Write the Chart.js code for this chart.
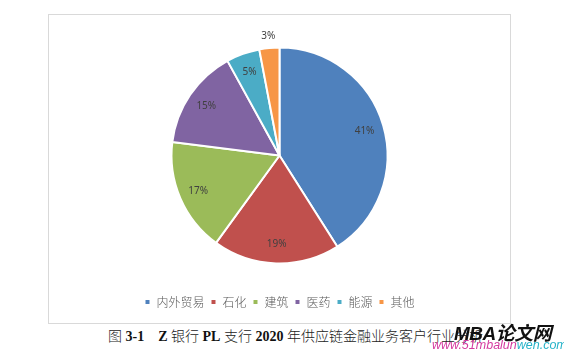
<!DOCTYPE html>
<html><head><meta charset="utf-8">
<script src="https://cdn.jsdelivr.net/npm/chart.js@4"></script>
<style>
html,body{margin:0;padding:0;background:#fff;width:564px;height:353px;overflow:hidden;position:relative}
#frame{position:absolute;left:48px;top:14px;width:461px;height:308px;border:1px solid #d9d9d9;background:#fff}
#wrap{position:absolute;left:0;top:0;width:461px;height:308px}
#cap{position:absolute;left:108px;top:325px;font-family:"Liberation Serif","Noto Sans CJK SC",serif;font-size:14px;color:#222;white-space:nowrap}
#cap b{font-weight:bold;color:#111}
#cap .c{font-weight:300}
#wm1{position:absolute;left:454px;top:318px;font-family:"Liberation Sans","Noto Sans CJK SC",sans-serif;font-size:19px;font-weight:bold;font-style:italic;color:#111;white-space:nowrap;letter-spacing:-0.5px}
#wm2{position:absolute;left:432px;top:338px;font-family:"Liberation Sans",sans-serif;font-size:12.5px;font-style:italic;white-space:nowrap;color:#d43aa0}
#wm2 span{color:#27b3c9}
</style></head>
<body>
<div id="frame"><div id="wrap"><canvas id="c"></canvas></div></div>
<div id="cap"><span class="c">图</span> <b>3-1</b>&nbsp;&nbsp;&nbsp; <b>Z</b> <span class="c">银行</span> <b>PL</b> <span class="c">支行</span> <b>2020</b> <span class="c">年供应链金融业务客户行业分析</span></div>
<div id="wm1">MBA论文网</div>
<div id="wm2">www.51mbalun<span>wen.com</span></div>
<script>
const categories = ["内外贸易","石化","建筑","医药","能源","其他"];
const values = [41,19,17,15,5,3];
const valueLabels = ["41%","19%","17%","15%","5%","3%"];
const colors = ["#4F81BD","#C0504D","#9BBB59","#8064A2","#4BACC6","#F79646"];

const labelPlugin = {
  id:'sliceLabels',
  afterDatasetsDraw(chart){
    const ctx = chart.ctx;
    const meta = chart.getDatasetMeta(0);
    ctx.save();
    ctx.font = '10px "Noto Sans","DejaVu Sans",sans-serif';
    ctx.fillStyle = '#404040';
    ctx.textAlign = 'center';
    ctx.textBaseline = 'middle';
    meta.data.forEach((arc,i)=>{
      const p = arc.getProps(['x','y','startAngle','endAngle','outerRadius'],true);
      const mid = (p.startAngle+p.endAngle)/2;
      const f = values[i] < 4 ? 1.11 : 0.82;
      const r = p.outerRadius*f;
      ctx.fillText(valueLabels[i], p.x+Math.cos(mid)*r, p.y+Math.sin(mid)*r);
    });
    ctx.restore();
  }
};

new Chart(document.getElementById('c'),{
  type:'pie',
  data:{labels:categories,datasets:[{data:values,backgroundColor:colors,borderColor:'#ffffff',borderWidth:2}]},
  options:{
    responsive:true,maintainAspectRatio:false,animation:false,
    radius:108,
    layout:{padding:{top:6,bottom:5}},
    plugins:{
      tooltip:{enabled:false},
      legend:{position:'bottom',
        labels:{boxWidth:6,boxHeight:6,padding:6,color:'#595959',
          font:{size:12,weight:300,family:'"Noto Sans CJK SC",sans-serif'}}}
    }
  },
  plugins:[labelPlugin]
});
</script>
</body></html>
